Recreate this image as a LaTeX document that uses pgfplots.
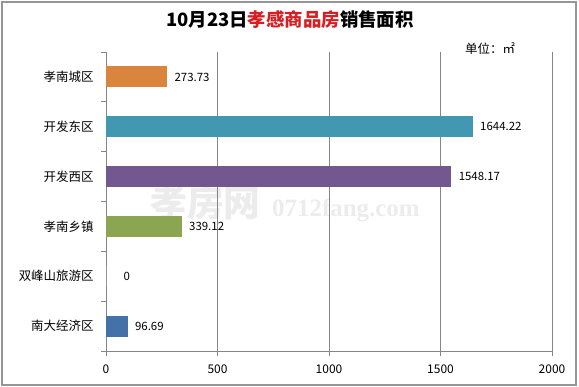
\documentclass[border=0pt]{standalone}
\usepackage{pgfplots}
\pgfplotsset{compat=1.18}
\usepackage{fontspec}
\setmainfont{Noto Sans CJK SC}
\newfontfamily\wmfont{Liberation Serif}
\definecolor{axgray}{RGB}{134,134,134}
\definecolor{frgray}{RGB}{150,150,150}
\definecolor{corange}{RGB}{218,133,62}
\definecolor{cteal}{RGB}{66,152,176}
\definecolor{cpurple}{RGB}{114,88,143}
\definecolor{cgreen}{RGB}{138,166,80}
\definecolor{cblue}{RGB}{68,114,168}
\definecolor{cred}{RGB}{215,30,35}
\begin{document}
\begin{tikzpicture}
\path (0bp,0bp) rectangle (579bp,387bp);
\draw[frgray, line width=1.2bp] (2bp,2bp) rectangle (576bp,385bp);
% watermark
\node[text=gray!15, font=\fontsize{37}{37}\selectfont\bfseries, anchor=west, inner sep=0pt] at (150bp,184bp) {孝房网};
\node[text=gray!15, font=\fontsize{25}{25}\selectfont\wmfont\bfseries, anchor=west, inner sep=0pt] at (272bp,177bp) {0712fang.com};
% title
\node[font=\fontsize{18.5}{20}\selectfont\bfseries] at (290bp,367bp) {10月23日\textcolor{cred}{孝感商品房}销售面积};
\node[font=\fontsize{12.5}{14}\selectfont, anchor=west, inner sep=0pt] at (465bp,338bp) {单位：㎡};
\begin{axis}[
  at={(106bp,36bp)}, anchor=south west,
  width=446bp, height=299bp, scale only axis,
  xmin=0, xmax=2000, ymin=0, ymax=6,
  axis x line*=bottom, axis y line*=left,
  axis line style={draw=axgray, line width=0.9bp},
  xtick={0,500,1000,1500,2000},
  xmajorgrids, grid style={axgray, line width=0.9bp},
  ytick={0.5,1.5,2.5,3.5,4.5,5.5},
  yticklabels={南大经济区,双峰山旅游区,孝南乡镇,开发西区,开发东区,孝南城区},
  minor ytick={0,1,2,3,4,5,6},
  major tick length=5bp, minor tick length=5bp,
  tick align=outside,
  every major y tick/.style={draw=none},
  every minor y tick/.style={draw=axgray, line width=0.9bp},
  every major x tick/.style={draw=axgray, line width=0.9bp},
  xticklabel style={font=\fontsize{12}{13}\selectfont, yshift=-5bp},
  yticklabel style={font=\fontsize{12.5}{14}\selectfont, xshift=-4bp},
  /pgf/number format/assume math mode=true,
  /pgf/number format/1000 sep={},
  point meta=explicit symbolic,
  nodes near coords,
  every node near coord/.append style={font=\fontsize{11.5}{12}\selectfont, text=black, anchor=west, xshift=4bp},
  clip=false,
]
\addplot[xbar, bar shift=0pt, bar width=21bp, fill=cblue, draw=none] coordinates {(96.69,0.5) [96.69]};
\addplot[xbar, bar shift=0pt, bar width=21bp, fill=white, draw=none, every node near coord/.append style={xshift=10bp}] coordinates {(0,1.5) [0]};
\addplot[xbar, bar shift=0pt, bar width=21bp, fill=cgreen, draw=none] coordinates {(339.12,2.5) [339.12]};
\addplot[xbar, bar shift=0pt, bar width=21bp, fill=cpurple, draw=none] coordinates {(1548.17,3.5) [1548.17]};
\addplot[xbar, bar shift=0pt, bar width=21bp, fill=cteal, draw=none] coordinates {(1644.22,4.5) [1644.22]};
\addplot[xbar, bar shift=0pt, bar width=21bp, fill=corange, draw=none] coordinates {(273.73,5.5) [273.73]};
\end{axis}
\end{tikzpicture}
\end{document}
